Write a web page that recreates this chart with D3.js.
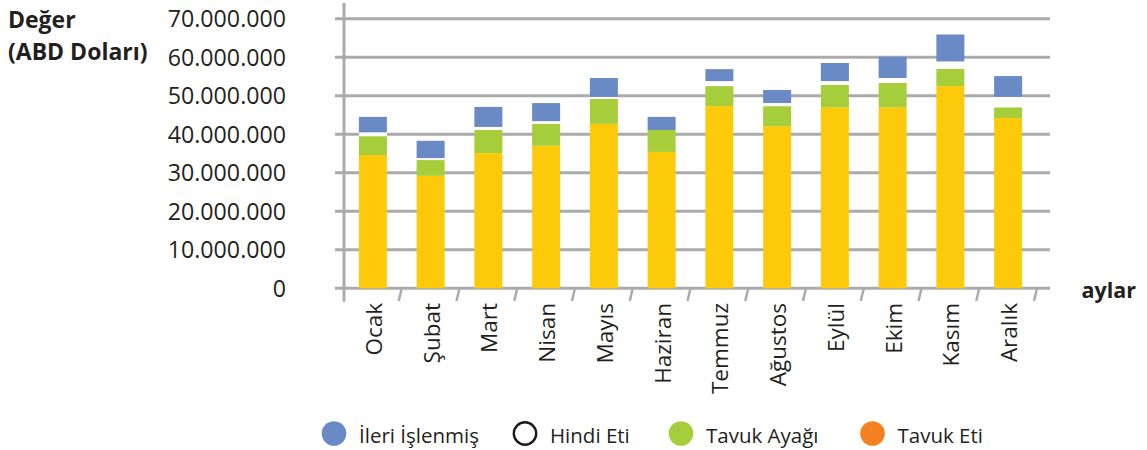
<!DOCTYPE html>
<html>
<head>
<meta charset="utf-8">
<script src="https://cdn.jsdelivr.net/npm/d3@7"></script>
<style>
  html, body { margin: 0; padding: 0; background: #fff; }
  svg { display: block; font-family: "Open Sans", "Noto Sans", sans-serif; }
</style>
</head>
<body>
<svg id="chart" width="1147" height="450"></svg>
<script>
// ---- Data (values in millions of USD) ----
const months = ["Ocak", "Şubat", "Mart", "Nisan", "Mayıs", "Haziran", "Temmuz", "Ağustos", "Eylül", "Ekim", "Kasım", "Aralık"];
const tavukEti    = [34.6, 29.2, 35.1, 37.0, 42.7, 35.4, 47.3, 42.1, 47.0, 47.0, 52.5, 44.2];
const tavukAyagi  = [4.9, 4.1, 6.0, 5.7, 6.5, 5.7, 5.2, 5.2, 5.8, 6.3, 4.5, 2.8];
const hindiEti    = [1.0, 0.5, 0.8, 0.7, 0.5, 0.0, 1.3, 0.8, 1.0, 1.3, 1.9, 2.7];
const ileriIslenmis = [4.0, 4.5, 5.2, 4.7, 4.9, 3.4, 3.1, 3.4, 4.7, 5.5, 7.0, 5.4];
const yTicks = [0, 10000000, 20000000, 30000000, 40000000, 50000000, 60000000, 70000000];
const yTickLabels = ["0", "10.000.000", "20.000.000", "30.000.000", "40.000.000", "50.000.000", "60.000.000", "70.000.000"];
const legendNames = ["İleri İşlenmiş", "Hindi Eti", "Tavuk Ayağı", "Tavuk Eti"];

// ---- Series setup (stack order bottom -> top) ----
const series = [
  { key: "Tavuk Eti", values: tavukEti, fill: "#FDC90B" },
  { key: "Tavuk Ayağı", values: tavukAyagi, fill: "#A6CE3A" },
  { key: "Hindi Eti", values: hindiEti, fill: "#FFFFFF" },
  { key: "İleri İşlenmiş", values: ileriIslenmis, fill: "#6A8AC6" }
];
const legendStyle = {
  "İleri İşlenmiş": { fill: "#6A8AC6", stroke: "none" },
  "Hindi Eti": { fill: "#FFFFFF", stroke: "#1a1a1a" },
  "Tavuk Ayağı": { fill: "#A6CE3A", stroke: "none" },
  "Tavuk Eti": { fill: "#F58220", stroke: "none" }
};

const table = months.map((m, i) => {
  const row = { month: m };
  series.forEach(s => row[s.key] = s.values[i] * 1e6);
  return row;
});
const stacked = d3.stack().keys(series.map(s => s.key))(table);

const svg = d3.select("#chart");
const gridColor = "#ABABAD";
const textColor = "#231F20";

const x = d3.scaleBand().domain(months).range([344, 1037]).paddingInner(0.515).paddingOuter(0.2575);
const y = d3.scaleLinear().domain([0, 70000000]).range([288.3, 18.7]);

// Gridlines
svg.append("g").selectAll("line").data(yTicks).join("line")
  .attr("x1", 335).attr("x2", 1050)
  .attr("y1", d => y(d)).attr("y2", d => y(d))
  .attr("stroke", gridColor).attr("stroke-width", 3);

// Y tick labels
svg.append("g").selectAll("text").data(yTicks).join("text")
  .attr("x", 286).attr("y", d => y(d)).attr("dy", "0.36em")
  .attr("text-anchor", "end")
  .attr("font-size", 23.2).attr("fill", textColor)
  .text((d, i) => yTickLabels[i]);

// Bars
svg.append("g").selectAll("g").data(stacked).join("g")
  .attr("fill", (d, i) => series[i].fill)
  .selectAll("rect").data(d => d).join("rect")
  .attr("x", d => x(d.data.month))
  .attr("width", x.bandwidth())
  .attr("y", d => y(d[1]))
  .attr("height", d => Math.max(0, y(d[0]) - y(d[1])));

// Y axis line
svg.append("line")
  .attr("x1", 344).attr("x2", 344).attr("y1", 3).attr("y2", 301.7)
  .attr("stroke", gridColor).attr("stroke-width", 3);

// X axis slanted ticks (category boundaries)
const step = x.step();
const boundaries = months.map(m => x(m) + x.bandwidth() / 2 + step / 2);
svg.append("g").selectAll("line").data(boundaries).join("line")
  .attr("x1", d => d).attr("y1", y(0))
  .attr("x2", d => d - 3).attr("y2", 301)
  .attr("stroke", gridColor).attr("stroke-width", 2.5);

// Month labels
svg.append("g").selectAll("text").data(months).join("text")
  .attr("transform", d => `translate(${x(d) + x.bandwidth() / 2 + 1},303) rotate(-90)`)
  .attr("dy", "0.36em")
  .attr("text-anchor", "end")
  .attr("font-size", 22.5).attr("fill", textColor)
  .text(d => d);

// Axis titles
const yTitle = svg.append("text").attr("font-size", 23).attr("font-weight", 700).attr("fill", textColor);
yTitle.append("tspan").attr("x", 8).attr("y", 28).text("Değer");
yTitle.append("tspan").attr("x", 8).attr("y", 60).text("(ABD Doları)");

svg.append("text").attr("x", 1136).attr("y", 298).attr("text-anchor", "end")
  .attr("font-size", 21.5).attr("font-weight", 700).attr("fill", textColor).text("aylar");

// Legend
const legendX = [334, 525, 681, 872.5];
const lg = svg.append("g").selectAll("g").data(legendNames).join("g")
  .attr("transform", (d, i) => `translate(${legendX[i]},433.5)`);
lg.append("circle")
  .attr("r", d => legendStyle[d].stroke === "none" ? 12.3 : 11.2)
  .attr("fill", d => legendStyle[d].fill)
  .attr("stroke", d => legendStyle[d].stroke)
  .attr("stroke-width", 2.4);
lg.append("text")
  .attr("x", 25).attr("y", 9.8)
  .attr("font-size", 20.5).attr("fill", textColor)
  .text(d => d);
</script>
</body>
</html>
